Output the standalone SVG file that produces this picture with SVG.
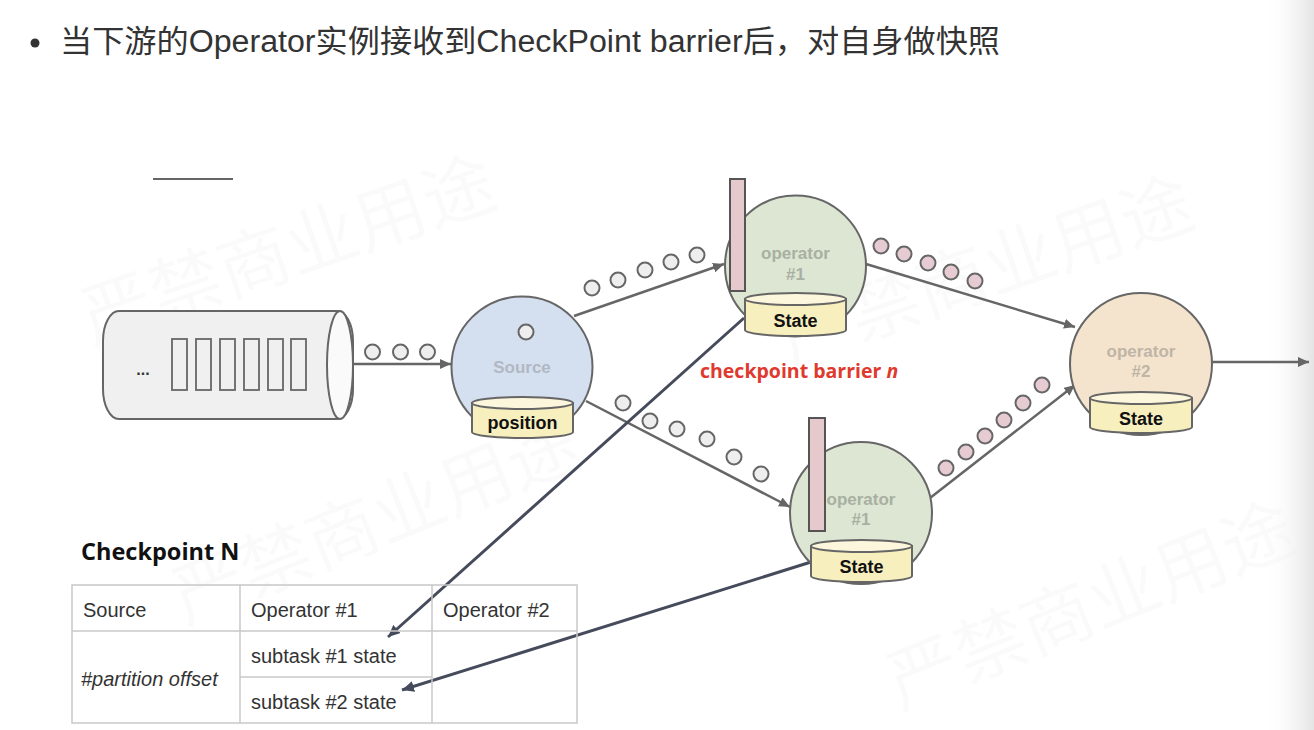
<svg xmlns="http://www.w3.org/2000/svg" width="1314" height="730" viewBox="0 0 1314 730">
<defs>
<style>
.title{font-family:"Liberation Sans","Noto Sans CJK SC",sans-serif;font-size:31px;fill:#333}
.wm{font-family:"Noto Sans CJK SC",sans-serif;font-size:72px;fill:#000;fill-opacity:0.018}
.nlab{font-family:"Liberation Sans",Arial,sans-serif;font-weight:bold;font-size:17px;text-anchor:middle}
.store{font-family:"Liberation Sans",Arial,sans-serif;font-weight:bold;font-size:18px;fill:#111;text-anchor:middle}
.cyl{fill:#f8efbf;stroke:#666;stroke-width:2}
.cyltop{fill:#fcf7dc;stroke:#666;stroke-width:2}
.node{stroke:#666;stroke-width:2}
.bar{fill:#e5c9cd;stroke:#555;stroke-width:2}
.rec{fill:#eeeeee;stroke:#666;stroke-width:2}
.pink{fill:#e6cbd2;stroke:#666;stroke-width:2}
.arr{stroke:#666;stroke-width:2.5;fill:none;marker-end:url(#ah)}
.dark{stroke:#464b5c;stroke-width:3;fill:none;marker-end:url(#ahd)}
.tbl{fill:none;stroke:#c8c8c8;stroke-width:1.5}
.cell{font-family:"Liberation Sans",Arial,sans-serif;font-size:20px;fill:#333}
</style>
<marker id="ah" markerUnits="userSpaceOnUse" markerWidth="12" markerHeight="10" refX="11" refY="5" orient="auto"><path d="M0,0 L11,5 L0,10 z" fill="#666"/></marker>
<marker id="ahd" markerUnits="userSpaceOnUse" markerWidth="13" markerHeight="11" refX="12" refY="5.5" orient="auto"><path d="M0,0 L12,5.5 L0,11 z" fill="#464b5c"/></marker>
<linearGradient id="edge" x1="0" y1="0" x2="1" y2="0"><stop offset="0" stop-color="#ffffff" stop-opacity="0"/><stop offset="1" stop-color="#e4e4e4"/></linearGradient>
</defs>
<rect width="1314" height="730" fill="#fff"/>
<g id="watermarks">
<text class="wm" transform="translate(92,345) rotate(-19)">严禁商业用途</text>
<text class="wm" transform="translate(790,365) rotate(-19)">严禁商业用途</text>
<text class="wm" transform="translate(185,625) rotate(-22)">严禁商业用途</text>
<text class="wm" transform="translate(900,710) rotate(-22)">严禁商业用途</text>
</g>
<rect x="1262" y="0" width="52" height="730" fill="url(#edge)"/>
<g id="heading">
<circle cx="35" cy="43" r="4.5" fill="#333"/>
<text class="title" x="60" y="52" textLength="940" lengthAdjust="spacingAndGlyphs">当下游的Operator实例接收到CheckPoint barrier后，对自身做快照</text>
<line x1="153" y1="179" x2="233" y2="179" stroke="#666" stroke-width="2"/>
</g>
<g id="connectors">
<line class="arr" x1="353" y1="364" x2="451" y2="364"/>
<line class="arr" x1="574" y1="316" x2="724" y2="264"/>
<line class="arr" x1="586" y1="401" x2="790" y2="507"/>
<line class="arr" x1="866" y1="264" x2="1075" y2="327"/>
<line class="arr" x1="930" y1="498" x2="1075" y2="385"/>
<line class="arr" x1="1212" y1="362" x2="1309" y2="362"/>
<line class="dark" x1="744" y1="318" x2="388" y2="637"/>
<line class="dark" x1="811" y1="562" x2="402" y2="690"/>
</g>
<g id="records">
<circle class="rec" cx="372.5" cy="352" r="7.5"/>
<circle class="rec" cx="400.5" cy="352" r="7.5"/>
<circle class="rec" cx="427.5" cy="352" r="7.5"/>
<circle class="rec" cx="592" cy="288" r="7.5"/>
<circle class="rec" cx="618" cy="280" r="7.5"/>
<circle class="rec" cx="645" cy="270" r="7.5"/>
<circle class="rec" cx="671" cy="262" r="7.5"/>
<circle class="rec" cx="697" cy="255" r="7.5"/>
<circle class="rec" cx="623" cy="403" r="7.5"/>
<circle class="rec" cx="650" cy="421" r="7.5"/>
<circle class="rec" cx="677" cy="429" r="7.5"/>
<circle class="rec" cx="707" cy="439" r="7.5"/>
<circle class="rec" cx="734" cy="457" r="7.5"/>
<circle class="rec" cx="761" cy="474" r="7.5"/>
<circle class="pink" cx="881" cy="246" r="7.5"/>
<circle class="pink" cx="904" cy="254" r="7.5"/>
<circle class="pink" cx="928" cy="263" r="7.5"/>
<circle class="pink" cx="951" cy="272" r="7.5"/>
<circle class="pink" cx="975" cy="281" r="7.5"/>
<circle class="pink" cx="946" cy="468" r="7.5"/>
<circle class="pink" cx="966" cy="452" r="7.5"/>
<circle class="pink" cx="985" cy="436" r="7.5"/>
<circle class="pink" cx="1004" cy="420" r="7.5"/>
<circle class="pink" cx="1023" cy="403" r="7.5"/>
<circle class="pink" cx="1042" cy="385" r="7.5"/>
</g>
<g id="queue">
<rect x="103" y="311" width="250" height="108" rx="16" ry="30" fill="#f0f0f0" stroke="#666" stroke-width="2"/>
<ellipse cx="340" cy="365" rx="13" ry="54" fill="#fafafa" stroke="#666" stroke-width="2"/>
<g fill="none" stroke="#666" stroke-width="1.8">
<rect x="172" y="339" width="15" height="51"/>
<rect x="196" y="339" width="15" height="51"/>
<rect x="220" y="339" width="15" height="51"/>
<rect x="244" y="339" width="15" height="51"/>
<rect x="268" y="339" width="15" height="51"/>
<rect x="291" y="339" width="15" height="51"/>
</g>
<text x="143" y="375" font-family="Liberation Sans,Arial,sans-serif" font-weight="bold" font-size="16" fill="#333" text-anchor="middle">...</text>
</g>
<g id="source">
<circle class="node" cx="522" cy="367" r="70.5" fill="#d4e0f0"/>
<circle class="rec" cx="526" cy="332" r="7.5"/>
<text class="nlab" x="522" y="373" fill="#b1b8c2">Source</text>
<path class="cyl" d="M472,403 V432 A50.5,6 0 0 0 573,432 V403 Z"/>
<ellipse class="cyltop" cx="522.5" cy="403" rx="50.5" ry="6"/>
<text class="store" x="522.5" y="429">position</text>
</g>
<g id="operator1a">
<circle class="node" cx="795.5" cy="266" r="70.5" fill="#dce6d2"/>
<text class="nlab" x="795.5" y="259" fill="#a9b0a2">operator</text>
<text class="nlab" x="795.5" y="280" fill="#a9b0a2">#1</text>
<rect class="bar" x="730" y="179" width="15" height="112"/>
<path class="cyl" d="M745,299 V330 A50.5,6 0 0 0 846,330 V299 Z"/>
<ellipse class="cyltop" cx="795.5" cy="299" rx="50.5" ry="6"/>
<text class="store" x="795.5" y="327">State</text>
</g>
<g id="operator1b">
<circle class="node" cx="861" cy="513" r="71" fill="#dce6d2"/>
<text class="nlab" x="861" y="505" fill="#a9b0a2">operator</text>
<text class="nlab" x="861" y="525" fill="#a9b0a2">#1</text>
<rect class="bar" x="809" y="418" width="16" height="113"/>
<path class="cyl" d="M811,546 V576 A50.5,6 0 0 0 912,576 V546 Z"/>
<ellipse class="cyltop" cx="861.5" cy="546" rx="50.5" ry="6"/>
<text class="store" x="861.5" y="573">State</text>
</g>
<g id="operator2">
<circle class="node" cx="1141" cy="364" r="71" fill="#f4e4cd"/>
<text class="nlab" x="1141" y="357" fill="#bfb5a7">operator</text>
<text class="nlab" x="1141" y="377" fill="#bfb5a7">#2</text>
<path class="cyl" d="M1090,398 V427 A51,6 0 0 0 1192,427 V398 Z"/>
<ellipse class="cyltop" cx="1141" cy="398" rx="51" ry="6"/>
<text class="store" x="1141" y="425">State</text>
</g>
<g id="barrier-label">
<text x="700" y="378" font-family="Open Sans,sans-serif" font-weight="bold" font-size="19.5" fill="#e0392e">checkpoint barrier <tspan font-style="italic">n</tspan></text>
</g>
<g id="checkpoint-table">
<text x="81" y="560" font-family="Open Sans,sans-serif" font-weight="bold" font-size="23.5" fill="#111">Checkpoint N</text>
<rect class="tbl" x="72" y="585" width="505" height="138"/>
<line class="tbl" x1="72" y1="631" x2="577" y2="631"/>
<line class="tbl" x1="240" y1="585" x2="240" y2="723"/>
<line class="tbl" x1="432" y1="585" x2="432" y2="723"/>
<line class="tbl" x1="240" y1="677" x2="432" y2="677"/>
<text class="cell" x="83" y="617">Source</text>
<text class="cell" x="251" y="617">Operator #1</text>
<text class="cell" x="443" y="617">Operator #2</text>
<text class="cell" x="81" y="686" font-style="italic">#partition offset</text>
<text class="cell" x="251" y="663">subtask #1 state</text>
<text class="cell" x="251" y="709">subtask #2 state</text>
</g>
</svg>
